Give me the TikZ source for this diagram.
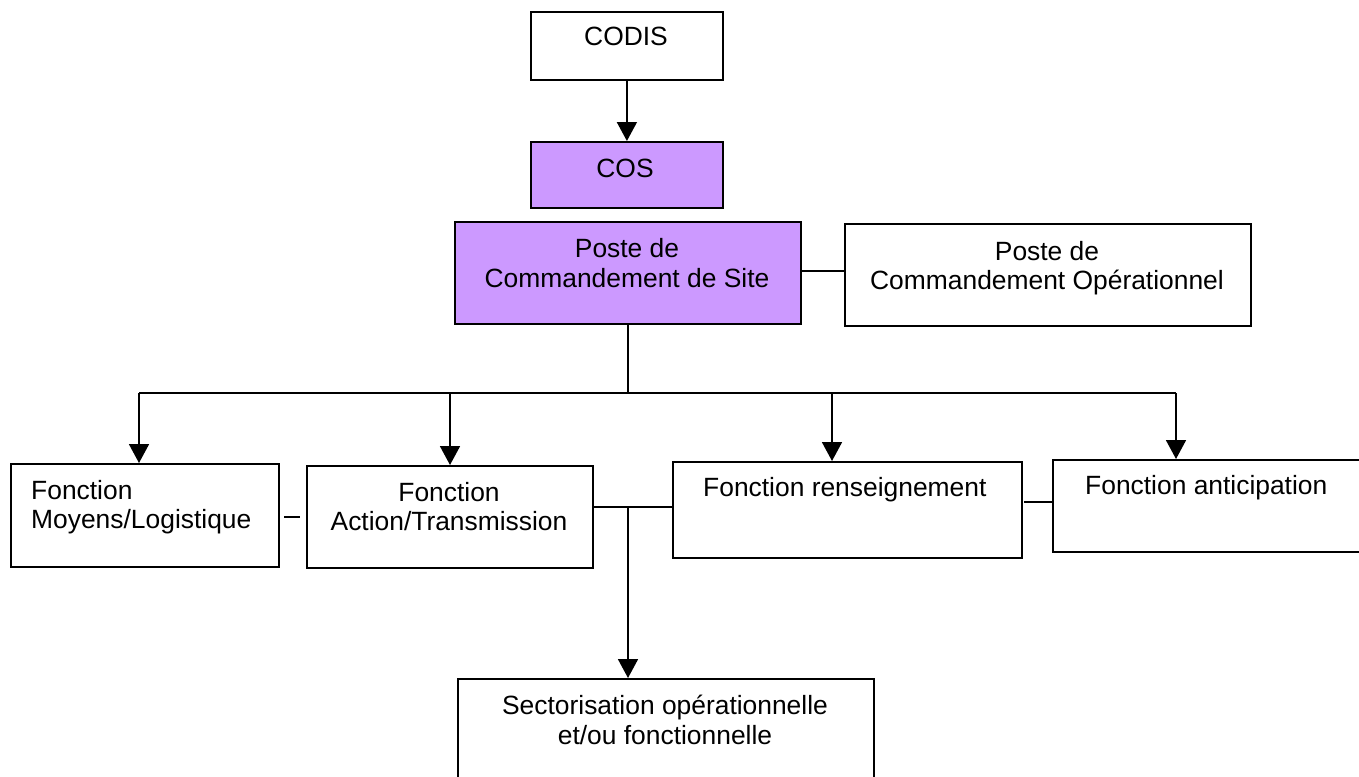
\documentclass[tikz,border=0pt]{standalone}
\usepackage{fontspec}
\setmainfont{Liberation Sans}
\usetikzlibrary{arrows.meta}
\definecolor{lilac}{HTML}{CC99FF}
\begin{document}
\begin{tikzpicture}[x=1pt,y=-1pt,
  box/.style={draw, line width=1.8pt, inner sep=0pt, anchor=north west, fill=white},
  hot/.style={box, fill=lilac},
  txt/.style={inner sep=0pt, anchor=base, font=\fontsize{26.4}{30}\selectfont},
  txtl/.style={txt, anchor=base west},
  ln/.style={line width=1.8pt},
  arr/.style={ln, -{Triangle[width=20pt,length=19pt]}}]
\useasboundingbox (0,0) rectangle (1359,776);
\clip (0,0) rectangle (1359,776);

% top chain
\node[box, minimum width=192pt, minimum height=68pt] (codis) at (530,11) {};
\node[txt] (codis-t) at (626,46) {CODIS};
\node[hot, minimum width=192pt, minimum height=66pt] (cos) at (530,141) {};
\node[txt] (cos-t) at (625,177) {COS};
\draw[arr] (codis.south) -- (cos.north);

% command posts
\node[hot, minimum width=346pt, minimum height=102pt] (pcs) at (454,221) {};
\node[txt] (pcs-t1) at (627,257) {Poste de};
\node[txt] (pcs-t2) at (627,287) {Commandement de Site};
\node[box, minimum width=406pt, minimum height=102pt] (pco) at (844,223) {};
\node[txt] (pco-t1) at (1047,260) {Poste de};
\node[txt] (pco-t2) at (1047,289) {Commandement Opérationnel};
\coordinate (ypc) at (0,271);
\draw[ln] (pcs.east |- ypc) -- (pco.west |- ypc);

% functions
\node[box, minimum width=268pt, minimum height=103pt] (ml) at (10,463) {};
\node[txtl] (ml-t1) at (31,499) {Fonction};
\node[txtl] (ml-t2) at (31,528) {Moyens/Logistique};
\node[box, minimum width=286pt, minimum height=102pt] (at) at (306,465) {};
\node[txt] (at-t1) at (449,501) {Fonction};
\node[txt] (at-t2) at (449,530) {Action/Transmission};
\node[box, minimum width=349pt, minimum height=96pt] (rens) at (672,461) {};
\node[txtl] (rens-t) at (703,496) {Fonction renseignement};
\node[box, minimum width=312pt, minimum height=92pt] (antic) at (1052,459) {};
\node[txtl] (antic-t) at (1085,494) {Fonction anticipation};

% sectors
\node[box, minimum width=416pt, minimum height=120pt] (sect) at (457,678) {};
\node[txt] (sect-t1) at (665,714) {Sectorisation opérationnelle};
\node[txt] (sect-t2) at (665,744) {et/ou fonctionnelle};

% distribution bus
\coordinate (hub) at (628,393);
\coordinate (bus1) at (139,393);
\coordinate (bus2) at (450,393);
\coordinate (bus3) at (832,393);
\coordinate (bus4) at (1176,393);
\draw[ln] (hub |- pcs.south) -- (hub);
\draw[ln] (bus1) -- (bus4);
\draw[arr] (bus1) -- (bus1 |- ml.north);
\draw[arr] (bus2) -- (bus2 |- at.north);
\draw[arr] (bus3) -- (bus3 |- rens.north);
\draw[arr] (bus4) -- (bus4 |- antic.north);

% links between functions
\coordinate (d1) at (284,517);
\coordinate (d2) at (300,517);
\draw[ln] (d1) -- (d2);
\coordinate (yat) at (0,507);
\draw[ln] (at.east |- yat) -- (rens.west |- yat);
\coordinate (d3) at (1024,502);
\draw[ln] (d3) -- (antic.west |- d3);
\coordinate (jn) at (628,507);
\draw[arr] (jn) -- (jn |- sect.north);
\end{tikzpicture}
\end{document}
